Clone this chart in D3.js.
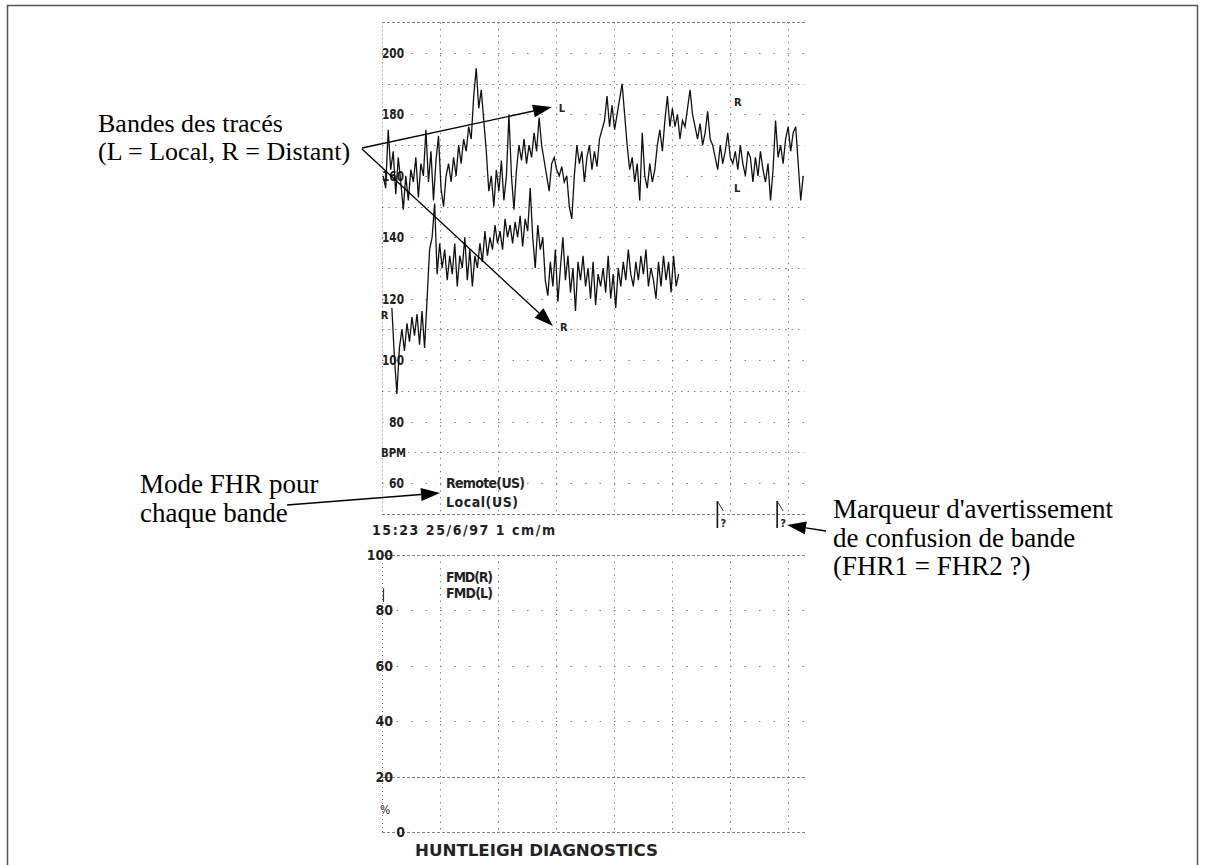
<!DOCTYPE html>
<html><head><meta charset="utf-8">
<script src="https://cdn.jsdelivr.net/npm/d3@7"></script>
<style>body{margin:0;background:#fff}</style>
</head><body>
<svg id="c" width="1205" height="865"></svg>
<script>
// ---------------- DATA ----------------
const fhrTickValues = [200, 180, 160, 140, 120, 100, 80, 60];
const fhrGridValues = [210, 200, 190, 180, 170, 160, 150, 140, 130, 120, 110, 100, 90, 80, 70, 60, 50];
const fmdTickValues = [100, 80, 60, 40, 20];
const minuteTicks = [0, 1, 2, 3, 4, 5, 6, 7];
const sampleMinutes = 0.04335;   // time between FHR samples (min)
const localStart = 0.02;         // min
const remoteStart = 0.17;        // min

// Local trace (upper band), bpm
const fhrLocal = [
  160,156,175,162, 168,154,166,158, 149,160,152,162, 158,166,153,164,
  160,175,158,168, 152,165,173,156, 150,160,164,158, 166,160,170,164,
  172,168,176,172, 186,195,182,188, 178,168,155,160, 150,162,155,165,
  152,160,180,160, 149,162,170,165, 172,164,170,166, 174,168,179,170,
  165,160,155,164, 166,162,160,163, 158,160,150,146, 160,170,164,168,
  158,166,170,162, 168,163,172,175, 178,186,176,183, 175,180,185,190,
  180,170,162,166, 158,164,152,174, 160,156,164,158, 162,170,175,168,
  178,186,176,182, 176,180,172,178, 176,182,188,180, 176,172,177,170,
  174,181,172,170, 166,162,170,164, 168,174,166,164, 168,162,170,164,
  160,168,166,158, 166,160,168,162, 158,164,152,162, 178,166,170,164,
  172,176,168,174, 176,164,152,160
];
// Remote trace (lower band), bpm
const fhrRemote = [
  117,101,89,104, 110,103,112,106, 114,108,115,105, 116,104,120,136,
  140,151,128,138, 130,136,126,134, 128,138,124,134, 130,140,126,136,
  124,134,130,138, 132,142,134,140, 136,144,138,142, 136,146,140,144,
  138,145,140,147, 137,146,142,156, 140,130,144,136, 140,126,121,132,
  124,136,119,130, 140,126,134,122, 130,116,132,126, 134,124,130,120,
  132,118,128,124, 130,122,134,120, 128,117,130,124, 132,126,136,128,
  124,132,126,134, 128,136,124,130, 126,120,132,124, 134,126,132,122,
  134,124,128
];
const bandMarks = [
  {label: "L", minute: 3.03, bpm: 182},
  {label: "R", minute: 3.05, bpm: 110.5},
  {label: "R", minute: 6.05, bpm: 184},
  {label: "L", minute: 6.05, bpm: 156},
  {label: "R", minute: -0.04, bpm: 114.5}
];
const warningMinutes = [5.78, 6.81];
const modeLabels = ["Remote(US)", "Local(US)"];
const fmdLabels = ["FMD(R)", "FMD(L)"];
const headerText = "15:23   25/6/97   1 cm/m";
const footerText = "HUNTLEIGH DIAGNOSTICS";
const noteBands = ["Bandes des tracés", "(L = Local, R = Distant)"];
const noteMode = ["Mode FHR pour", "chaque bande"];
const noteWarn = ["Marqueur d'avertissement", "de confusion de bande", "(FHR1 = FHR2 ?)"];

// ---------------- DRAW ----------------
const svg = d3.select("#c");
svg.append("rect").attr("width", 1205).attr("height", 865).attr("fill", "#fff");
svg.append("path").attr("d", "M7.5,865 V5.5 H1197.5 V865")
  .attr("fill", "none").attr("stroke", "#555").attr("stroke-width", 1.5);

const x = d3.scaleLinear().domain([0, 7.29]).range([382, 805]);
const yF = d3.scaleLinear().domain([50, 210]).range([513.7, 22.3]);
const yM = d3.scaleLinear().domain([0, 100]).range([832, 555]);

const printFont = "'DejaVu Sans Condensed','Liberation Sans Narrow','DejaVu Sans',sans-serif";
const serif = "'Liberation Serif','Times New Roman',serif";

// grid
const grid = svg.append("g").attr("fill", "none").attr("stroke", "#808080").attr("stroke-width", 1);
fhrGridValues.forEach(v => {
  const edge = (v === 210 || v === 50);
  const odd = v % 20 === 10;
  grid.append("line")
    .attr("x1", x(0)).attr("x2", x(7.29))
    .attr("y1", Math.round(yF(v)) + 0.5).attr("y2", Math.round(yF(v)) + 0.5)
    .attr("stroke-dasharray", edge ? "3,2" : (odd ? "1.5,5" : "1.5,13"));
});
[100, 80, 60, 40, 20, 0].forEach(v => {
  const dense = (v === 100 || v === 20 || v === 0);
  grid.append("line")
    .attr("x1", x(0)).attr("x2", x(7.29))
    .attr("y1", Math.round(yM(v)) + 0.5).attr("y2", Math.round(yM(v)) + 0.5)
    .attr("stroke-dasharray", dense ? "3,2" : "1.5,13");
});
minuteTicks.forEach(m => {
  const xx = Math.round(x(m)) + 0.5;
  const da = m === 0 ? "1,3" : "1.5,5";
  grid.append("line").attr("x1", xx).attr("x2", xx).attr("y1", yF(210)).attr("y2", yF(50)).attr("stroke-dasharray", da);
  grid.append("line").attr("x1", xx).attr("x2", xx).attr("y1", yM(100)).attr("y2", yM(0)).attr("stroke-dasharray", da);
});

// axis labels
const lab = svg.append("g").attr("font-family", printFont).attr("font-size", 14)
  .attr("font-weight", "bold").attr("font-stretch", "condensed")
  .attr("fill", "#222").attr("dominant-baseline", "central");
fhrTickValues.forEach(v => {
  lab.append("text").attr("x", 404).attr("y", yF(v)).attr("text-anchor", "end")
    .attr("textLength", String(v).length === 3 ? 22 : 15).attr("lengthAdjust", "spacingAndGlyphs").text(v);
});
lab.append("text").attr("x", 381).attr("y", yF(70)).attr("font-size", 13)
  .attr("textLength", 25).attr("lengthAdjust", "spacingAndGlyphs").text("BPM");
fmdTickValues.forEach(v => {
  lab.append("text").attr("x", 393).attr("y", yM(v)).attr("text-anchor", "end").text(v);
});
lab.append("text").attr("x", 380).attr("y", yM(8)).attr("font-size", 12).attr("font-weight", "normal").text("%");
lab.append("text").attr("x", 405).attr("y", yM(0)).attr("text-anchor", "end").text("0");
svg.append("line").attr("x1", 383.5).attr("x2", 383.5).attr("y1", yM(88)).attr("y2", yM(83))
  .attr("stroke", "#333").attr("stroke-width", 1.2);

// band marks
bandMarks.forEach(b => {
  lab.append("text").attr("x", x(b.minute) + 1).attr("y", yF(b.bpm)).attr("font-size", 11)
    .text(b.label);
});

// traces
const lineFn = start => d3.line().x((d, i) => x(start + i * sampleMinutes)).y(d => yF(d));
[[fhrRemote, remoteStart], [fhrLocal, localStart]].forEach(([s, st]) => {
  svg.append("path").datum(s).attr("d", lineFn(st))
    .attr("fill", "none").attr("stroke", "#111").attr("stroke-width", 1.3).attr("stroke-linejoin", "miter");
});

// printer texts
modeLabels.forEach((t, i) => {
  lab.append("text").attr("x", x(1) + 6).attr("y", yF(60) + i * 19)
    .attr("textLength", i === 0 ? 79 : 72).attr("lengthAdjust", "spacing").text(t);
});
lab.append("text").attr("x", 372).attr("y", 530).attr("textLength", 183).attr("lengthAdjust", "spacing").text(headerText);
fmdLabels.forEach((t, i) => {
  lab.append("text").attr("x", x(1) + 6).attr("y", yM(92) + i * 16)
    .attr("textLength", 47).attr("lengthAdjust", "spacing").text(t);
});
lab.append("text").attr("x", 415).attr("y", 850).attr("font-size", 16)
  .attr("textLength", 243).attr("lengthAdjust", "spacingAndGlyphs").text(footerText);

// warning flags
warningMinutes.forEach(m => {
  const xx = x(m);
  svg.append("line").attr("x1", xx).attr("x2", xx).attr("y1", 501).attr("y2", 528)
    .attr("stroke", "#111").attr("stroke-width", 1.6);
  svg.append("line").attr("x1", xx).attr("x2", xx + 6).attr("y1", 501).attr("y2", 511)
    .attr("stroke", "#333").attr("stroke-width", 1);
  svg.append("text").attr("x", xx + 3).attr("y", 527).attr("font-family", printFont)
    .attr("font-size", 11).attr("font-weight", "bold").attr("fill", "#222").text("?");
});

// annotations
function arrow(x1, y1, x2, y2) {
  const g = svg.append("g");
  const ang = Math.atan2(y2 - y1, x2 - x1), L = 19, Wd = 6.5;
  const bx = x2 - L * Math.cos(ang), by = y2 - L * Math.sin(ang);
  g.append("line").attr("x1", x1).attr("y1", y1).attr("x2", bx).attr("y2", by)
    .attr("stroke", "#000").attr("stroke-width", 1.3);
  const px = -Math.sin(ang) * Wd, py = Math.cos(ang) * Wd;
  g.append("path").attr("d", `M${x2},${y2} L${bx + px},${by + py} L${bx - px},${by - py} Z`).attr("fill", "#000");
}
arrow(362, 148, 552, 107);
arrow(362, 149, 553, 326);
arrow(287, 505, 440, 493);
arrow(826, 531, 787, 525);

function note(lines, x0, y0, dy, fs) {
  const t = svg.append("text").attr("font-family", serif).attr("font-size", fs).attr("fill", "#000");
  lines.forEach((s, i) => t.append("tspan").attr("x", x0).attr("y", y0 + i * dy).text(s));
}
note(noteBands, 98, 132, 28, 26);
note(noteMode, 140, 493, 29, 27);
note(noteWarn, 833, 518, 28.5, 27);
</script>
</body></html>
